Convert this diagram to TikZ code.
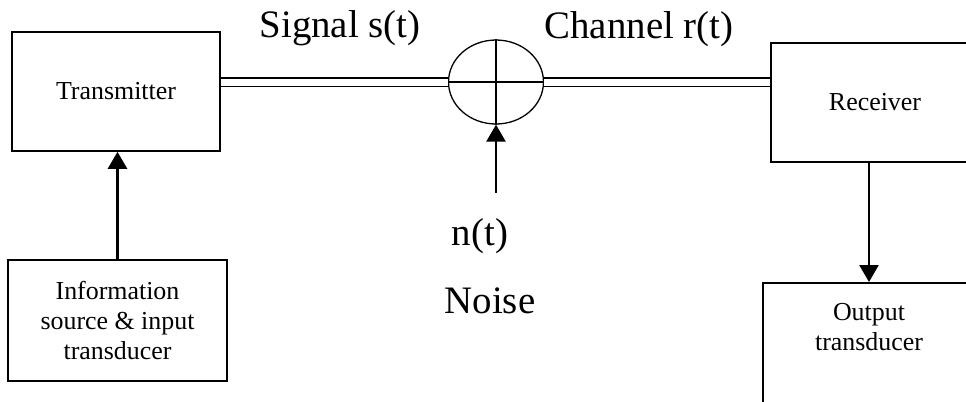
\documentclass[tikz,border=0pt]{standalone}
\usepackage{fontspec}
\setmainfont{Liberation Serif}
\usetikzlibrary{arrows.meta,shapes.geometric}
\begin{document}
\begin{tikzpicture}[x=1bp,y=-1bp,
  blk/.style={draw, line width=1.6bp, inner sep=0pt, align=center,
    font=\fontsize{26}{30}\selectfont},
  big/.style={font=\fontsize{39}{44}\selectfont, inner sep=0pt, anchor=base},
  arr/.style={line width=2.6bp, -{Triangle[length=17bp,width=19bp]}},
  dbl/.style={double, double distance=7bp, line width=1.5bp}]
\useasboundingbox (0,0) rectangle (966,401);
\clip (0,0) rectangle (966,401);
\fill[white] (0,0) rectangle (966,401);
% boxes
\node[blk, minimum width=208bp, minimum height=119bp] (tx) at (116,91.5) {Transmitter};
\node[blk, minimum width=219bp, minimum height=121bp] (src) at (117.5,320.5) {Information\\source \& input\\transducer};
\node[blk, minimum width=208bp, minimum height=119bp] (rx) at (875,102.5) {Receiver};
\node[blk, minimum width=212bp, minimum height=122bp, anchor=north] (out) at (869,282) {};
\node[font=\fontsize{26}{30}\selectfont, align=center, anchor=base, inner sep=0pt] (outtxt) at (869,350) {Output\\transducer};
% summing junction
\node[draw, ellipse, line width=1.3bp, minimum width=95bp, minimum height=84bp, inner sep=0pt] (sum) at (496,82) {};
\draw[line width=1.3bp] (sum.north) -- (sum.south);
\draw[line width=1.3bp] (sum.west) -- (sum.east);
% double channel lines
\draw[dbl] (tx.east |- sum.west) -- (sum.west);
\draw[dbl] (sum.east) -- (rx.west |- sum.east);
% arrows
\draw[arr] (src.north) -- (src.north |- tx.south);
\coordinate (nz) at (496,193);
\draw[arr] (nz) -- (sum.south);
\draw[arr] (rx.south -| out.north) -- (out.north);
% labels
\node[big] (sig) at (340,37) {Signal s(t)};
\node[big] (chan) at (639,38) {Channel r(t)};
\node[big] (nt) at (480,245) {n(t)};
\node[big] (noise) at (490,313) {Noise};
\end{tikzpicture}
\end{document}
